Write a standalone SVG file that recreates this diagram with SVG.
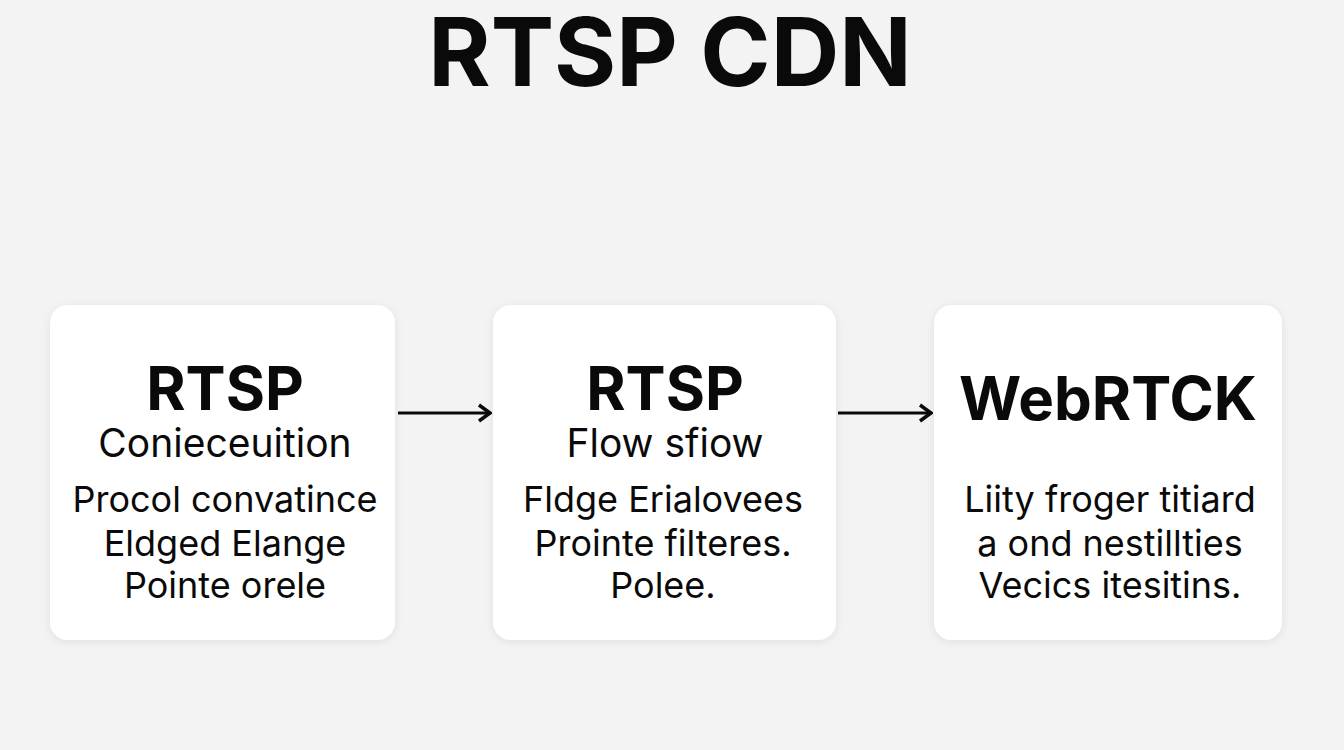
<svg xmlns="http://www.w3.org/2000/svg" width="1344" height="750" viewBox="0 0 1344 750">
<defs>
<filter id="sh" x="-10%" y="-10%" width="120%" height="120%"><feDropShadow dx="0" dy="2" stdDeviation="4" flood-color="#000" flood-opacity="0.08"/></filter>
<marker id="ah" markerWidth="16" markerHeight="20" refX="14" refY="10" orient="auto" markerUnits="userSpaceOnUse"><path d="M3,2 L14,10 L3,18" fill="none" stroke="#0a0a0a" stroke-width="3.5"/></marker>
</defs>
<style>
.box{fill:#fff;filter:url(#sh)}
text{font-family:"Inter","Liberation Sans",Arial,sans-serif;fill:#0a0a0a;text-anchor:middle}
.t{font-size:95px;font-weight:700}
.h{font-size:60px;font-weight:700}
.s{font-size:39px}
.b{font-size:36px}
.c{stroke:#0a0a0a;stroke-width:3;fill:none;marker-end:url(#ah)}
</style>
<rect width="1344" height="750" fill="#f3f3f3"/>
<text class="t" x="670" y="86">RTSP CDN</text>
<g id="connectors">
<line class="c" x1="398" y1="413" x2="490" y2="413"/>
<line class="c" x1="838" y1="413" x2="931" y2="413"/>
</g>
<g id="node1">
<rect class="box" x="50" y="305" width="345" height="335" rx="18"/>
<text class="h" x="225" y="410">RTSP</text>
<text class="s" x="225" y="457">Conieceuition</text>
<text class="b" x="225" y="512">Procol convatince</text>
<text class="b" x="225" y="556">Eldged Elange</text>
<text class="b" x="225" y="598">Pointe orele</text>
</g>
<g id="node2">
<rect class="box" x="493" y="305" width="343" height="335" rx="18"/>
<text class="h" x="665" y="410">RTSP</text>
<text class="s" x="665" y="457">Flow sfiow</text>
<text class="b" x="663" y="512">Fldge Erialovees</text>
<text class="b" x="663" y="556">Prointe filteres.</text>
<text class="b" x="663" y="598">Polee.</text>
</g>
<g id="node3">
<rect class="box" x="934" y="305" width="348" height="335" rx="18"/>
<text class="h" x="1108" y="420">WebRTCK</text>
<text class="b" x="1110" y="512">Liity froger titiard</text>
<text class="b" x="1110" y="556">a ond nestillties</text>
<text class="b" x="1110" y="598">Vecics itesitins.</text>
</g>
</svg>
